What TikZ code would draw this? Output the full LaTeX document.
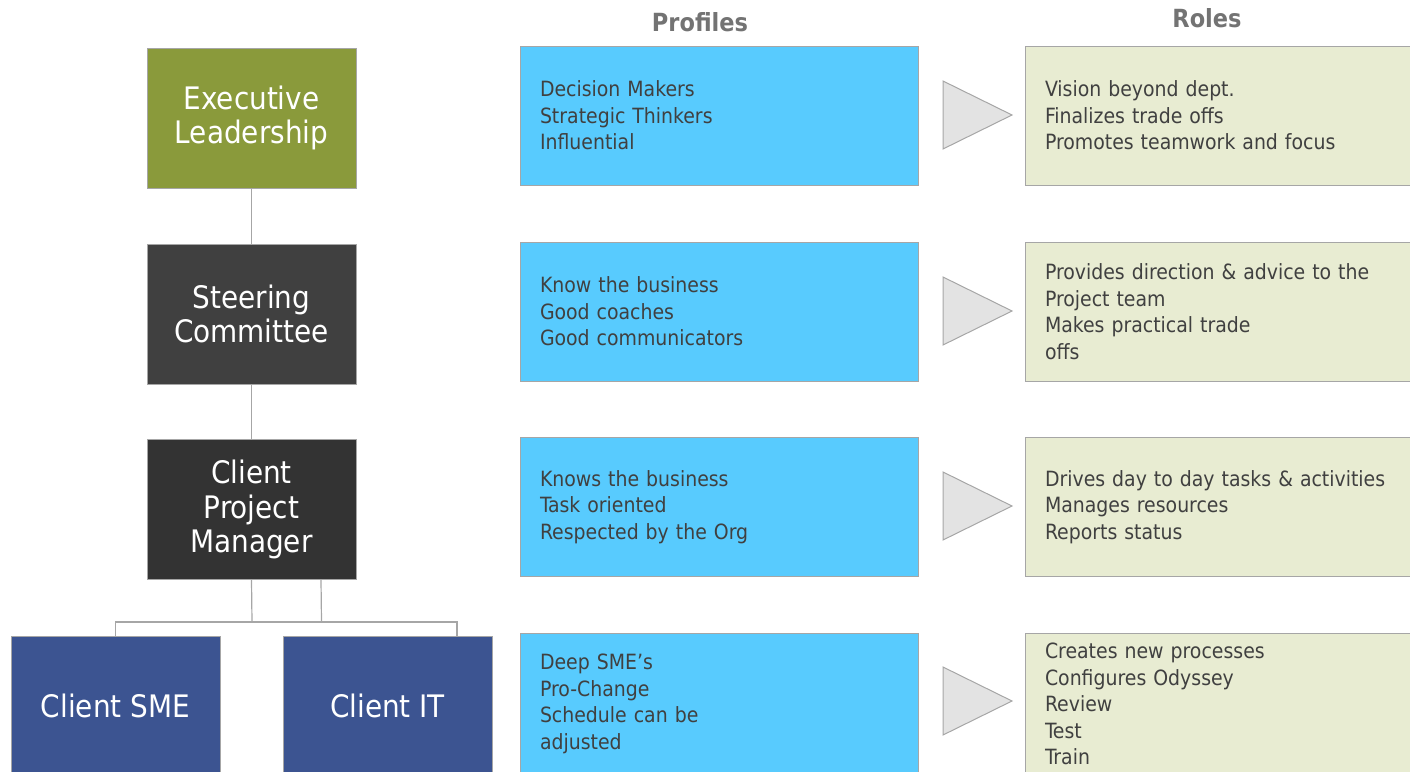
\documentclass[tikz,border=0pt]{standalone}
\usepackage{fontspec}
\setmainfont{DejaVu Sans Condensed}
\begin{document}
\begin{tikzpicture}[x=1pt,y=-1pt,
  orgbox/.style={draw=black!35, line width=1pt, minimum width=209pt, minimum height=140pt, text=white, align=center, font=\fontsize{31}{34.5}\selectfont, inner sep=0pt},
  profbox/.style={draw=black!35, line width=1pt, fill=profcol, minimum width=398pt, minimum height=139pt, text width=358pt, inner xsep=20pt, inner ysep=0pt, align=left, text=txtcol, font=\fontsize{21}{26.5}\selectfont},
  rolebox/.style={draw=black!35, line width=1pt, fill=rolecol, minimum width=420pt, minimum height=139pt, text width=380pt, inner xsep=20pt, inner ysep=0pt, align=left, text=txtcol, font=\fontsize{21}{26.5}\selectfont},
  tri/.style={draw=black!35, line width=1pt, fill=tricol},
  link/.style={draw=black!35, line width=1.2pt},
  head/.style={text=black!55, font=\bfseries\fontsize{25}{30}\selectfont}
]
\definecolor{olivecol}{HTML}{8A9A3B}
\definecolor{steercol}{HTML}{404040}
\definecolor{cpmcol}{HTML}{333333}
\definecolor{bluecol}{HTML}{3C5491}
\definecolor{profcol}{HTML}{58CBFE}
\definecolor{rolecol}{HTML}{E8ECD2}
\definecolor{tricol}{HTML}{E3E3E3}
\definecolor{txtcol}{HTML}{404040}
\useasboundingbox (0,0) rectangle (1410,771);
\clip (0,0) rectangle (1410,771);

% headers
\node[head] (hprof) at (700,22) {Profiles};
\node[head] (hrole) at (1207,18) {Roles};

% org chart
\node[orgbox, fill=olivecol] (exec) at (251.5,118) {Executive\\Leadership};
\node[orgbox, fill=steercol] (steer) at (251.5,314) {Steering\\Committee};
\node[orgbox, fill=cpmcol] (cpm) at (251.5,509.5) {Client\\Project\\Manager};
\node[orgbox, fill=bluecol] (sme) at (115.5,706) {Client SME};
\node[orgbox, fill=bluecol] (it) at (387.5,706) {Client IT};

\coordinate (j) at (252,622);
\coordinate (itdrop) at ([xshift=69.5pt]it.north);
\draw[link] (exec.south) -- (steer.north);
\draw[link] (steer.south) -- (cpm.north);
\draw[link] (cpm.south) -- (j);
\draw[link] ([xshift=69.5pt]cpm.south) -- ([xshift=69.5pt]j);
\draw[link] (sme.north) -- (sme.north |- j) -- (itdrop |- j) -- (itdrop);

% profiles
\node[profbox] (p1) at (719,115.5) {Decision Makers\\Strategic Thinkers\\Influential};
\node[profbox] (p2) at (719,311.5) {Know the business\\Good coaches\\Good communicators};
\node[profbox] (p3) at (719,507) {Knows the business\\Task oriented\\Respected by the Org};
\node[profbox, minimum height=142pt] (p4) at (719,704) {Deep SME’s\\Pro-Change\\Schedule can be\\adjusted};

% roles
\node[rolebox] (r1) at (1235,115.5) {Vision beyond dept.\\Finalizes trade offs\\Promotes teamwork and focus};
\node[rolebox] (r2) at (1235,311.5) {Provides direction \& advice to the\\Project team\\Makes practical trade\\offs};
\node[rolebox] (r3) at (1235,507) {Drives day to day tasks \& activities\\Manages resources\\Reports status};
\node[rolebox, minimum height=142pt] (r4) at (1235,704) {Creates new processes\\Configures Odyssey\\Review\\Test\\Train};

% triangles
\foreach \c in {115,311,506,701}{
  \draw[tri] (943,\c-34) -- (1012,\c) -- (943,\c+34) -- cycle;
}
\end{tikzpicture}
\end{document}
